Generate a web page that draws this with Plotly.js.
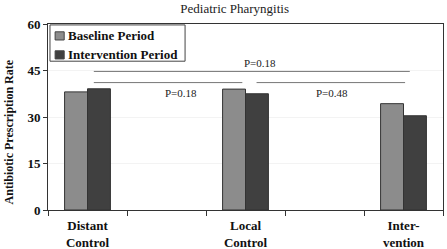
<!DOCTYPE html>
<html>
<head>
<meta charset="utf-8">
<script src="https://cdn.plot.ly/plotly-3.0.1.min.js"></script>
<style>
  html, body { margin: 0; padding: 0; background: #fff; }
  #chart { width: 447px; height: 249px; }
</style>
</head>
<body>
<div id="chart"></div>
<script>
// categories and values
const categories = ["Distant<br>Control", "Local<br>Control", "Inter-<br>vention"];
const catPos = [0, 1, 2];
const seriesNames = ["Baseline Period", "Intervention Period"];
const baseline = [38.1, 39.0, 34.3];
const intervention = [39.1, 37.5, 30.4];
const yTicks = [0, 15, 30, 45, 60];
const colors = ['#8c8c8c', '#404040'];

const serif = "Liberation Serif";

let traceBase = {
    x: catPos,
    y: baseline,
    type: 'bar',
    name: seriesNames[0],
    marker: { color: colors[0], line: { color: '#333', width: 1 } }
};

let traceInt = {
    x: catPos,
    y: intervention,
    type: 'bar',
    name: seriesNames[1],
    marker: { color: colors[1], line: { color: '#333', width: 1 } }
};

// significance brackets
let lineStyle = { color: '#777', width: 1 };
let shapes = [
    { type: 'line', xref: 'x', yref: 'y', x0: 0.04, x1: 2.04, y0: 44.7, y1: 44.7, line: lineStyle },
    { type: 'line', xref: 'x', yref: 'y', x0: 0.04, x1: 0.98, y0: 41.1, y1: 41.1, line: lineStyle },
    { type: 'line', xref: 'x', yref: 'y', x0: 1.07, x1: 2.01, y0: 41.1, y1: 41.1, line: lineStyle },
    // legend box, drawn by hand to get the tight spacing
    { type: 'rect', xref: 'paper', yref: 'paper', x0: 0.005, x1: 0.347, y0: 0.8, y1: 0.995,
      line: { color: '#444', width: 1 }, fillcolor: '#fff', layer: 'above' },
    { type: 'rect', xref: 'paper', yref: 'paper', x0: 0.018, x1: 0.041, y0: 0.914, y1: 0.958,
      line: { color: '#444', width: 1 }, fillcolor: colors[0], layer: 'above' },
    { type: 'rect', xref: 'paper', yref: 'paper', x0: 0.018, x1: 0.041, y0: 0.812, y1: 0.856,
      line: { color: '#444', width: 1 }, fillcolor: colors[1], layer: 'above' }
];

let pFont = { family: serif, size: 11, color: '#222' };
let legFont = { family: serif, size: 13, color: '#111', weight: 'bold' };
let annotations = [
    { x: 1.09, y: 47.5, xref: 'x', yref: 'y', text: 'P=0.18', showarrow: false, font: pFont },
    { x: 0.59, y: 37.6, xref: 'x', yref: 'y', text: 'P=0.18', showarrow: false, font: pFont },
    { x: 1.55, y: 37.6, xref: 'x', yref: 'y', text: 'P=0.48', showarrow: false, font: pFont },
    { x: 0.045, y: 0.937, xref: 'paper', yref: 'paper', xanchor: 'left', yanchor: 'middle',
      text: seriesNames[0], showarrow: false, font: legFont },
    { x: 0.045, y: 0.835, xref: 'paper', yref: 'paper', xanchor: 'left', yanchor: 'middle',
      text: seriesNames[1], showarrow: false, font: legFont },
    // y axis title, sits a little below the plot centre in the original
    { x: -0.1, y: 0.42, xref: 'paper', yref: 'paper', xanchor: 'center', yanchor: 'middle',
      text: 'Antibiotic Prescription Rate', textangle: -90, showarrow: false,
      font: { family: serif, size: 12, color: '#111', weight: 'bold' } }
];

let layout = {
    width: 447,
    height: 249,
    margin: { l: 48, r: 4, t: 24, b: 39 },
    paper_bgcolor: '#fff',
    plot_bgcolor: '#fff',
    font: { family: serif },
    title: {
        text: 'Pediatric Pharyngitis',
        font: { family: serif, size: 13, color: '#222' },
        x: 0.525, xanchor: 'center', y: 0.985, yanchor: 'top'
    },
    barmode: 'group',
    bargap: 0.71,
    bargroupgap: 0,
    showlegend: false,
    xaxis: {
        range: [-0.25, 2.25],
        tickvals: catPos,
        ticktext: categories,
        ticks: '',
        ticklabelstandoff: 3,
        tickfont: { family: serif, size: 13, color: '#111', weight: 'bold' },
        showgrid: false,
        zeroline: false,
        showline: true, linecolor: '#333', linewidth: 1, mirror: true,
        minor: { tick0: -0.25, dtick: 0.5, ticks: 'outside', ticklen: 5, tickcolor: '#333', showgrid: false }
    },
    yaxis: {
        range: [0, 60],
        tickvals: yTicks,
        ticks: 'outside', ticklen: 4, tickcolor: '#333',
        tickfont: { family: serif, size: 13, color: '#111', weight: 'bold' },
        showgrid: true, gridcolor: '#f3f3f3',
        zeroline: false,
        showline: true, linecolor: '#333', linewidth: 1, mirror: true
    },
    shapes: shapes,
    annotations: annotations
};

Plotly.newPlot('chart', [traceBase, traceInt], layout, { displayModeBar: false, staticPlot: true });
</script>
</body>
</html>
